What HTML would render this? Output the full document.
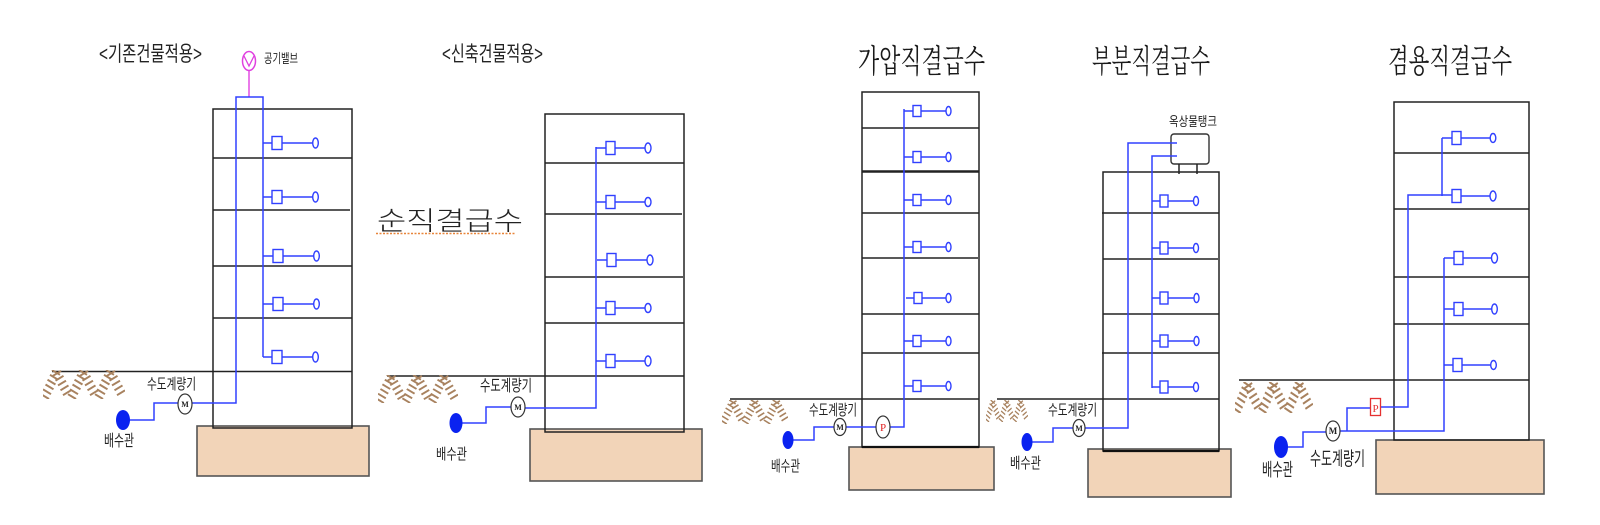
<!DOCTYPE html>
<html>
<head>
<meta charset="utf-8">
<style>
  html,body{margin:0;padding:0;background:#fff;}
  svg{display:block;}
  .t{font-family:"Liberation Sans","Noto Sans CJK KR",sans-serif;fill:#222;}
  .ts{font-family:"Liberation Serif","Noto Serif CJK SC","Noto Sans CJK KR",serif;fill:#1a1a1a;}
  .b{stroke:#222;stroke-width:1.5;fill:none;}
  .p{stroke:#3040ff;stroke-width:1.5;fill:none;}
  .fx{stroke:#3040ff;stroke-width:1.4;fill:#fff;}
  .fd{fill:#f2d4b8;stroke:#555;stroke-width:1.6;}
  .dot{fill:#0a22f0;}
  .m{fill:#fff;stroke:#333;stroke-width:1.2;}
</style>
</head>
<body>
<svg width="1600" height="525" viewBox="0 0 1600 525" xmlns="http://www.w3.org/2000/svg">
<defs>
  <symbol id="hatch" viewBox="0 0 82 30" preserveAspectRatio="none">
    <g stroke="#a8825f" stroke-width="2" fill="none">
      <g id="chev">
        <line x1="-2" y1="25" x2="6" y2="30"/>
        <line x1="0" y1="20" x2="8" y2="25"/>
        <line x1="2.5" y1="15" x2="10.5" y2="20"/>
        <line x1="4.5" y1="10" x2="12.5" y2="15"/>
        <line x1="7" y1="5" x2="15" y2="10"/>
        <line x1="9" y1="0" x2="17" y2="5"/>
        <line x1="10" y1="6" x2="18" y2="1"/>
        <line x1="12.5" y1="11" x2="20.5" y2="6"/>
        <line x1="15" y1="16" x2="23" y2="11"/>
        <line x1="17.5" y1="21" x2="25.5" y2="16"/>
        <line x1="20" y1="26" x2="28" y2="21"/>
      </g>
      <use href="#chev" x="27"/>
      <use href="#chev" x="54"/>
    </g>
  </symbol>
</defs>

<!-- ================= PANEL 1 ================= -->
<text class="t" x="99" y="61" font-size="21" textLength="103" lengthAdjust="spacingAndGlyphs">&lt;기존건물적용&gt;</text>
<ellipse cx="249" cy="61" rx="6.5" ry="9.5" fill="#fff" stroke="#e040e0" stroke-width="1.5"/>
<polyline points="244,56 249,66 254,56" fill="none" stroke="#e040e0" stroke-width="1.3"/>
<line x1="249" y1="70.5" x2="249" y2="97" stroke="#e040e0" stroke-width="1.4"/>
<text class="t" x="264" y="63" font-size="13" textLength="34" lengthAdjust="spacingAndGlyphs">공기밸브</text>
<rect class="fd" x="197" y="426" width="172" height="50"/>
<rect class="b" x="213" y="109" width="139" height="319"/>
<line class="b" x1="213" y1="158" x2="352" y2="158"/>
<line class="b" x1="213" y1="210" x2="350" y2="210"/>
<line class="b" x1="213" y1="266" x2="352" y2="266"/>
<line class="b" x1="213" y1="318" x2="352" y2="318"/>
<line class="b" x1="52" y1="371.5" x2="352" y2="371.5"/>
<use href="#hatch" x="43" y="370" width="82" height="29"/>
<polyline class="p" points="192,403 236,403 236,97 263,97 263,357"/>
<polyline class="p" points="128,420 154,420 154,403 178,403"/>
<g>
  <line class="p" x1="263" y1="143" x2="272" y2="143"/><rect class="fx" x="272" y="136.5" width="10" height="13"/><line class="p" x1="282" y1="143" x2="313" y2="143"/><ellipse class="fx" cx="315.5" cy="143" rx="2.8" ry="5"/>
  <line class="p" x1="263" y1="197" x2="272" y2="197"/><rect class="fx" x="272" y="190.5" width="10" height="13"/><line class="p" x1="282" y1="197" x2="313" y2="197"/><ellipse class="fx" cx="315.5" cy="197" rx="2.8" ry="5"/>
  <line class="p" x1="263" y1="256" x2="273" y2="256"/><rect class="fx" x="273" y="249.5" width="10" height="13"/><line class="p" x1="283" y1="256" x2="314" y2="256"/><ellipse class="fx" cx="316.5" cy="256" rx="2.8" ry="5"/>
  <line class="p" x1="263" y1="304" x2="273" y2="304"/><rect class="fx" x="273" y="297.5" width="10" height="13"/><line class="p" x1="283" y1="304" x2="314" y2="304"/><ellipse class="fx" cx="316.5" cy="304" rx="2.8" ry="5"/>
  <line class="p" x1="263" y1="357" x2="272" y2="357"/><rect class="fx" x="272" y="350.5" width="10" height="13"/><line class="p" x1="282" y1="357" x2="313" y2="357"/><ellipse class="fx" cx="315.5" cy="357" rx="2.8" ry="5"/>
</g>
<ellipse class="m" cx="185" cy="404" rx="7" ry="10"/>
<text x="185" y="407" font-size="8" font-weight="bold" text-anchor="middle" font-family="Liberation Serif,serif" fill="#222">M</text>
<ellipse class="dot" cx="123" cy="420" rx="7" ry="10"/>
<text class="t" x="147" y="389" font-size="15" textLength="49" lengthAdjust="spacingAndGlyphs">수도계량기</text>
<text class="t" x="104" y="446" font-size="16" textLength="30" lengthAdjust="spacingAndGlyphs">배수관</text>

<!-- ================= PANEL 2 ================= -->
<text class="t" x="442" y="61" font-size="21" textLength="101" lengthAdjust="spacingAndGlyphs">&lt;신축건물적용&gt;</text>
<text class="t" x="377" y="230" font-size="26" font-weight="300" textLength="146" lengthAdjust="spacingAndGlyphs">순직결급수</text>
<line x1="376" y1="233.5" x2="515" y2="233.5" stroke="#e8853a" stroke-width="1.6" stroke-dasharray="2,1.5"/>
<rect class="fd" x="530" y="429" width="172" height="52"/>
<rect class="b" x="545" y="114" width="139" height="318"/>
<line class="b" x1="545" y1="163" x2="684" y2="163"/>
<line class="b" x1="545" y1="214" x2="682" y2="214"/>
<line class="b" x1="545" y1="277" x2="683" y2="277"/>
<line class="b" x1="545" y1="323" x2="684" y2="323"/>
<line class="b" x1="387" y1="376" x2="684" y2="376"/>
<use href="#hatch" x="378" y="375" width="80" height="28"/>
<polyline class="p" points="525,408 596,408 596,147"/>
<polyline class="p" points="461,423 486,423 486,407 511,407"/>
<g>
  <line class="p" x1="596" y1="148" x2="606" y2="148"/><rect class="fx" x="606" y="141.5" width="9" height="13"/><line class="p" x1="615" y1="148" x2="645" y2="148"/><ellipse class="fx" cx="648" cy="148" rx="3" ry="5"/>
  <line class="p" x1="596" y1="202" x2="606" y2="202"/><rect class="fx" x="606" y="195.5" width="9" height="13"/><line class="p" x1="615" y1="202" x2="645" y2="202"/><ellipse class="fx" cx="648" cy="202" rx="3" ry="4.5"/>
  <line class="p" x1="597" y1="260" x2="607" y2="260"/><rect class="fx" x="607" y="253.5" width="9" height="13"/><line class="p" x1="616" y1="260" x2="647" y2="260"/><ellipse class="fx" cx="650" cy="260" rx="3" ry="5"/>
  <line class="p" x1="596" y1="308" x2="606" y2="308"/><rect class="fx" x="606" y="301.5" width="9" height="13"/><line class="p" x1="615" y1="308" x2="645" y2="308"/><ellipse class="fx" cx="648" cy="308" rx="3" ry="4.5"/>
  <line class="p" x1="596" y1="361" x2="606" y2="361"/><rect class="fx" x="606" y="354.5" width="9" height="13"/><line class="p" x1="615" y1="361" x2="645" y2="361"/><ellipse class="fx" cx="648" cy="361" rx="3" ry="5"/>
</g>
<ellipse class="m" cx="518" cy="407" rx="7" ry="10"/>
<text x="518" y="410" font-size="8" font-weight="bold" text-anchor="middle" font-family="Liberation Serif,serif" fill="#222">M</text>
<ellipse class="dot" cx="456" cy="423" rx="6.5" ry="10"/>
<text class="t" x="480" y="391" font-size="16" textLength="52" lengthAdjust="spacingAndGlyphs">수도계량기</text>
<text class="t" x="436" y="459" font-size="15" textLength="31" lengthAdjust="spacingAndGlyphs">배수관</text>

<!-- ================= PANEL 3 ================= -->
<text class="ts" x="858" y="72" font-size="32" textLength="127" lengthAdjust="spacingAndGlyphs">가압직결급수</text>
<rect class="fd" x="849" y="447" width="145" height="43"/>
<rect class="b" x="862" y="92" width="117" height="355"/>
<line class="b" x1="862" y1="128" x2="979" y2="128"/>
<line x1="862" y1="171.5" x2="979" y2="171.5" stroke="#222" stroke-width="2.6"/>
<line class="b" x1="862" y1="213" x2="979" y2="213"/>
<line class="b" x1="862" y1="258" x2="978" y2="258"/>
<line class="b" x1="862" y1="314" x2="979" y2="314"/>
<line class="b" x1="862" y1="353" x2="979" y2="353"/>
<line class="b" x1="730" y1="399" x2="979" y2="399"/>
<line x1="862" y1="447" x2="979" y2="447" stroke="#111" stroke-width="2.2"/>
<use href="#hatch" x="722" y="400" width="66" height="24"/>
<polyline class="p" points="890,427 904,427 904,109"/>
<line class="p" x1="846" y1="427" x2="876" y2="427"/>
<polyline class="p" points="792,440 814,440 814,427 834,427"/>
<g>
  <line class="p" x1="904" y1="111" x2="913" y2="111"/><rect class="fx" x="913" y="105.5" width="8" height="11"/><line class="p" x1="921" y1="111" x2="946" y2="111"/><ellipse class="fx" cx="948.5" cy="111" rx="2.5" ry="4.5"/>
  <line class="p" x1="904" y1="157" x2="913" y2="157"/><rect class="fx" x="913" y="151.5" width="8" height="11"/><line class="p" x1="921" y1="157" x2="946" y2="157"/><ellipse class="fx" cx="948.5" cy="157" rx="2.5" ry="4.5"/>
  <line class="p" x1="904" y1="200" x2="913" y2="200"/><rect class="fx" x="913" y="194.5" width="8" height="11"/><line class="p" x1="921" y1="200" x2="946" y2="200"/><ellipse class="fx" cx="948.5" cy="200" rx="2.5" ry="4.5"/>
  <line class="p" x1="904" y1="247" x2="913" y2="247"/><rect class="fx" x="913" y="241.5" width="8" height="11"/><line class="p" x1="921" y1="247" x2="946" y2="247"/><ellipse class="fx" cx="948.5" cy="247" rx="2.5" ry="4.5"/>
  <line class="p" x1="906" y1="298" x2="914" y2="298"/><rect class="fx" x="914" y="292.5" width="8" height="11"/><line class="p" x1="922" y1="298" x2="946" y2="298"/><ellipse class="fx" cx="948.5" cy="298" rx="2.5" ry="4.5"/>
  <line class="p" x1="904" y1="341" x2="913" y2="341"/><rect class="fx" x="913" y="335.5" width="8" height="11"/><line class="p" x1="921" y1="341" x2="946" y2="341"/><ellipse class="fx" cx="948.5" cy="341" rx="2.5" ry="4.5"/>
  <line class="p" x1="904" y1="386" x2="913" y2="386"/><rect class="fx" x="913" y="380.5" width="8" height="11"/><line class="p" x1="921" y1="386" x2="946" y2="386"/><ellipse class="fx" cx="948.5" cy="386" rx="2.5" ry="4.5"/>
</g>
<ellipse class="m" cx="840" cy="427" rx="6" ry="8.5"/>
<text x="840" y="430" font-size="8" font-weight="bold" text-anchor="middle" font-family="Liberation Serif,serif" fill="#222">M</text>
<ellipse class="m" cx="883" cy="427" rx="7" ry="11"/>
<text x="883" y="431" font-size="11" text-anchor="middle" font-family="Liberation Serif,serif" fill="#e02020">P</text>
<ellipse class="dot" cx="788" cy="440" rx="5.5" ry="9"/>
<text class="t" x="809" y="415" font-size="15" textLength="48" lengthAdjust="spacingAndGlyphs">수도계량기</text>
<text class="t" x="771" y="471" font-size="15" textLength="29" lengthAdjust="spacingAndGlyphs">배수관</text>

<!-- ================= PANEL 4 ================= -->
<text class="ts" x="1092" y="72" font-size="32" textLength="118" lengthAdjust="spacingAndGlyphs">부분직결급수</text>
<rect class="fd" x="1088" y="449" width="143" height="48"/>
<rect class="b" x="1103" y="172" width="116" height="279"/>
<line class="b" x1="1102" y1="213" x2="1219" y2="213"/>
<line class="b" x1="1103" y1="259" x2="1218" y2="259"/>
<line class="b" x1="1103" y1="314" x2="1219" y2="314"/>
<line class="b" x1="1102" y1="353" x2="1219" y2="353"/>
<line class="b" x1="997" y1="399" x2="1219" y2="399"/>
<line x1="1103" y1="451" x2="1219" y2="451" stroke="#111" stroke-width="2.2"/>
<use href="#hatch" x="986" y="400" width="42" height="22"/>
<rect x="1171" y="134" width="38" height="30" rx="3" fill="#fff" stroke="#333" stroke-width="1.4"/>
<line class="b" x1="1179" y1="164" x2="1179" y2="174"/>
<line class="b" x1="1197" y1="164" x2="1197" y2="174"/>
<text class="t" x="1169" y="126" font-size="13" textLength="48" lengthAdjust="spacingAndGlyphs">옥상물탱크</text>
<polyline class="p" points="1085,428 1128,428 1128,143 1177,143"/>
<polyline class="p" points="1177,156 1152,156 1152,388"/>
<polyline class="p" points="1032,442 1053,442 1053,428 1073,428"/>
<g>
  <line class="p" x1="1152" y1="201" x2="1160" y2="201"/><rect class="fx" x="1160" y="195" width="8" height="12"/><line class="p" x1="1168" y1="201" x2="1193.5" y2="201"/><ellipse class="fx" cx="1196" cy="201" rx="2.5" ry="4.5"/>
  <line class="p" x1="1152" y1="248" x2="1160" y2="248"/><rect class="fx" x="1160" y="242" width="8" height="12"/><line class="p" x1="1168" y1="248" x2="1193.5" y2="248"/><ellipse class="fx" cx="1196" cy="248" rx="2.5" ry="4.5"/>
  <line class="p" x1="1152" y1="298" x2="1160" y2="298"/><rect class="fx" x="1160" y="292" width="8" height="12"/><line class="p" x1="1168" y1="298" x2="1194" y2="298"/><ellipse class="fx" cx="1196.5" cy="298" rx="2.5" ry="4.5"/>
  <line class="p" x1="1152" y1="341" x2="1160" y2="341"/><rect class="fx" x="1160" y="335" width="8" height="12"/><line class="p" x1="1168" y1="341" x2="1194" y2="341"/><ellipse class="fx" cx="1196.5" cy="341" rx="2.5" ry="4.5"/>
  <line class="p" x1="1152" y1="387" x2="1160" y2="387"/><rect class="fx" x="1160" y="381" width="8" height="12"/><line class="p" x1="1168" y1="387" x2="1193.5" y2="387"/><ellipse class="fx" cx="1196" cy="387" rx="2.5" ry="4.5"/>
</g>
<ellipse class="m" cx="1079" cy="428" rx="6" ry="8.5"/>
<text x="1079" y="431" font-size="8" font-weight="bold" text-anchor="middle" font-family="Liberation Serif,serif" fill="#222">M</text>
<ellipse class="dot" cx="1027" cy="442" rx="5.5" ry="9"/>
<text class="t" x="1048" y="415" font-size="15" textLength="49" lengthAdjust="spacingAndGlyphs">수도계량기</text>
<text class="t" x="1010" y="468" font-size="15" textLength="31" lengthAdjust="spacingAndGlyphs">배수관</text>

<!-- ================= PANEL 5 ================= -->
<text class="ts" x="1388" y="72" font-size="32" textLength="124" lengthAdjust="spacingAndGlyphs">겸용직결급수</text>
<rect class="fd" x="1376" y="440" width="168" height="54"/>
<rect class="b" x="1394" y="102" width="135" height="338"/>
<line class="b" x1="1394" y1="153" x2="1529" y2="153"/>
<line class="b" x1="1394" y1="209" x2="1529" y2="209"/>
<line class="b" x1="1394" y1="277" x2="1529" y2="277"/>
<line class="b" x1="1394" y1="324" x2="1529" y2="324"/>
<line class="b" x1="1239" y1="380" x2="1529" y2="380"/>
<use href="#hatch" x="1235" y="382" width="78" height="31"/>
<polyline class="p" points="1340,431 1444,431 1444,258"/>
<polyline class="p" points="1347,431 1347,408 1370,408"/>
<polyline class="p" points="1380,407 1408,407 1408,195 1452,195"/>
<line class="p" x1="1442" y1="138" x2="1442" y2="196"/>
<polyline class="p" points="1287,447 1303,447 1303,432 1326,432"/>
<g>
  <line class="p" x1="1442" y1="138" x2="1452" y2="138"/><rect class="fx" x="1452" y="131.5" width="9" height="13"/><line class="p" x1="1461" y1="138" x2="1490" y2="138"/><ellipse class="fx" cx="1493" cy="138" rx="2.8" ry="4.5"/>
  <rect class="fx" x="1452" y="189.5" width="9" height="13"/><line class="p" x1="1461" y1="196" x2="1490" y2="196"/><ellipse class="fx" cx="1493" cy="196" rx="3" ry="5"/>
  <line class="p" x1="1444" y1="258" x2="1454" y2="258"/><rect class="fx" x="1454" y="251.5" width="9" height="13"/><line class="p" x1="1463" y1="258" x2="1491.5" y2="258"/><ellipse class="fx" cx="1494.5" cy="258" rx="3" ry="5"/>
  <line class="p" x1="1444" y1="309" x2="1454" y2="309"/><rect class="fx" x="1454" y="302.5" width="9" height="13"/><line class="p" x1="1463" y1="309" x2="1491.5" y2="309"/><ellipse class="fx" cx="1494.5" cy="309" rx="2.8" ry="5"/>
  <line class="p" x1="1444" y1="365" x2="1453" y2="365"/><rect class="fx" x="1453" y="358.5" width="9" height="13"/><line class="p" x1="1462" y1="365" x2="1490.5" y2="365"/><ellipse class="fx" cx="1493.5" cy="365" rx="2.8" ry="4.5"/>
</g>
<rect x="1370.5" y="398.5" width="10" height="17" fill="#fff" stroke="#e53030" stroke-width="1.3"/>
<text x="1375.5" y="412" font-size="11" text-anchor="middle" font-family="Liberation Serif,serif" fill="#e53030">P</text>
<ellipse class="m" cx="1333" cy="431" rx="7" ry="10"/>
<text x="1333" y="434" font-size="9" font-weight="bold" text-anchor="middle" font-family="Liberation Serif,serif" fill="#222">M</text>
<ellipse class="dot" cx="1281" cy="447" rx="7" ry="11"/>
<text class="t" x="1310" y="465" font-size="19" textLength="55" lengthAdjust="spacingAndGlyphs">수도계량기</text>
<text class="t" x="1262" y="476" font-size="18" textLength="31" lengthAdjust="spacingAndGlyphs">배수관</text>
</svg>
</body>
</html>
